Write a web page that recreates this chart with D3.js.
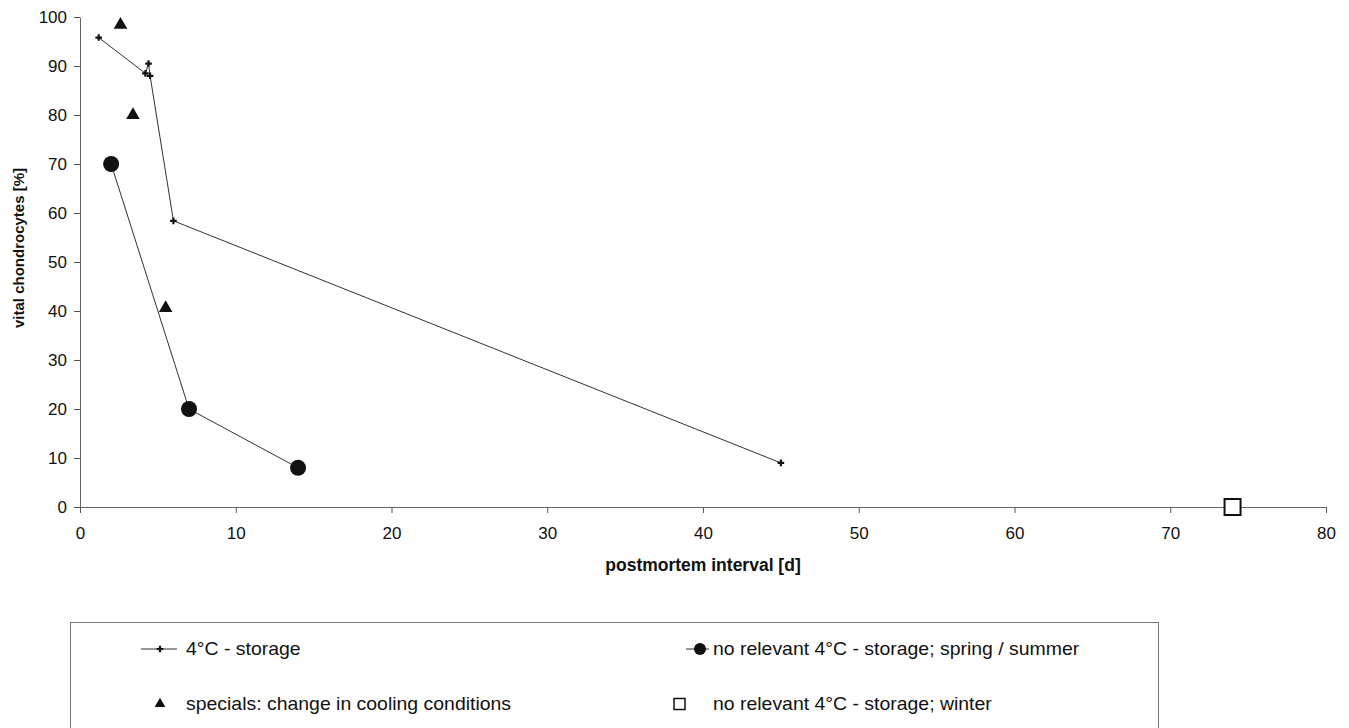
<!DOCTYPE html>
<html>
<head>
<meta charset="utf-8">
<script src="https://cdn.jsdelivr.net/npm/d3@7"></script>
<style>
  body { margin: 0; background: #fff; }
  svg { display: block; font-family: "Liberation Sans", Arial, sans-serif; }
</style>
</head>
<body>
<div id="chart"></div>
<script>
// Data
const storageX = [1.2, 4.2, 4.4, 4.5, 6.0, 45];
const storageY = [95.8, 88.5, 90.5, 88.0, 58.4, 9.0];

const summerX = [2, 7, 14];
const summerY = [70, 20, 8];

const specialsX = [2.6, 3.4, 5.5];
const specialsY = [98.4, 80.0, 40.6];

const winterX = [74];
const winterY = [0];

const xTicks = [0, 10, 20, 30, 40, 50, 60, 70, 80];
const yTicks = [0, 10, 20, 30, 40, 50, 60, 70, 80, 90, 100];

const legendLabels = [
  "4°C - storage",
  "no relevant 4°C - storage; spring / summer",
  "specials: change in cooling conditions",
  "no relevant 4°C - storage; winter"
];

// Figure
const width = 1349;
const height = 728;
const marginLeft = 80;
const marginRight = 23;
const marginTop = 17;
const plotBottom = 507;

const svg = d3.select("#chart").append("svg")
    .attr("width", width)
    .attr("height", height);

const x = d3.scaleLinear().domain([0, 80]).range([marginLeft, width - marginRight]);
const y = d3.scaleLinear().domain([0, 100]).range([plotBottom, marginTop]);

// X-axis
const xAxis = svg.append("g")
    .attr("transform", `translate(0,${plotBottom})`)
    .call(d3.axisBottom(x).tickValues(xTicks).tickSize(6).tickSizeOuter(0).tickPadding(14));
xAxis.select(".domain").attr("stroke", "#666");
xAxis.selectAll(".tick line").attr("stroke", "#555");
xAxis.selectAll("text").style("font-size", "17px").attr("fill", "#111");

// Y-axis
const yAxis = svg.append("g")
    .attr("transform", `translate(${marginLeft},0)`)
    .call(d3.axisLeft(y).tickValues(yTicks).tickSize(6).tickSizeOuter(0).tickPadding(7));
yAxis.select(".domain").attr("stroke", "#666");
yAxis.selectAll(".tick line").attr("stroke", "#555");
yAxis.selectAll("text").style("font-size", "17px").attr("fill", "#111");

// Axis titles
svg.append("text")
    .attr("x", 703).attr("y", 571)
    .attr("text-anchor", "middle")
    .style("font-size", "17.5px").attr("font-weight", "bold").attr("fill", "#111")
    .text("postmortem interval [d]");

svg.append("text")
    .attr("transform", "translate(24,248) rotate(-90)")
    .attr("text-anchor", "middle")
    .style("font-size", "15px").attr("font-weight", "bold").attr("fill", "#111")
    .text("vital chondrocytes [%]");

const line = d3.line().x(d => x(d[0])).y(d => y(d[1]));
const storage = d3.zip(storageX, storageY);
const summer = d3.zip(summerX, summerY);
const specials = d3.zip(specialsX, specialsY);
const winter = d3.zip(winterX, winterY);

// 4°C storage
svg.append("path").datum(storage)
    .attr("fill", "none").attr("stroke", "#333").attr("stroke-width", 1)
    .attr("d", line);
const cross = d3.symbol().type(d3.symbolCross).size(24);
svg.selectAll(".storage").data(storage).join("path")
    .attr("transform", d => `translate(${x(d[0])},${y(d[1])})`)
    .attr("d", cross).attr("fill", "#111");

// spring / summer
svg.append("path").datum(summer)
    .attr("fill", "none").attr("stroke", "#333").attr("stroke-width", 1)
    .attr("d", line);
svg.selectAll(".summer").data(summer).join("circle")
    .attr("cx", d => x(d[0])).attr("cy", d => y(d[1]))
    .attr("r", 8).attr("fill", "#111");

// specials
const tri = d3.symbol().type(d3.symbolTriangle).size(80);
svg.selectAll(".special").data(specials).join("path")
    .attr("transform", d => `translate(${x(d[0])},${y(d[1])})`)
    .attr("d", tri).attr("fill", "#111");

// winter
svg.selectAll(".winter").data(winter).join("rect")
    .attr("x", d => x(d[0]) - 8).attr("y", d => y(d[1]) - 8)
    .attr("width", 16).attr("height", 16)
    .attr("fill", "#fff").attr("stroke", "#111").attr("stroke-width", 2);

// Legend
const legend = svg.append("g");
legend.append("rect")
    .attr("x", 70.5).attr("y", 622.5).attr("width", 1088).attr("height", 130)
    .attr("fill", "none").attr("stroke", "#777").attr("stroke-width", 1);

const rows = [649, 704];
const cols = [186, 713];

function legendText(i, cx, cy) {
  legend.append("text")
      .attr("transform", `translate(${cx},${cy}) scale(1.08,1)`)
      .attr("dy", "0.35em")
      .style("font-size", "18px").attr("fill", "#111")
      .text(legendLabels[i]);
}

// item 0
legend.append("line").attr("x1", 141).attr("x2", 177).attr("y1", rows[0]).attr("y2", rows[0])
    .attr("stroke", "#333");
legend.append("path").attr("transform", `translate(160,${rows[0]})`).attr("d", cross).attr("fill", "#111");
legendText(0, cols[0], rows[0]);

// item 1
legend.append("line").attr("x1", 686).attr("x2", 709).attr("y1", rows[0]).attr("y2", rows[0])
    .attr("stroke", "#333");
legend.append("circle").attr("cx", 700).attr("cy", rows[0]).attr("r", 6).attr("fill", "#111");
legendText(1, cols[1], rows[0]);

// item 2
legend.append("path").attr("transform", `translate(160,${rows[1]})`)
    .attr("d", d3.symbol().type(d3.symbolTriangle).size(50)).attr("fill", "#111");
legendText(2, cols[0], rows[1]);

// item 3
legend.append("rect").attr("x", 674).attr("y", rows[1] - 5.5).attr("width", 11).attr("height", 11)
    .attr("fill", "#fff").attr("stroke", "#111").attr("stroke-width", 1.5);
legendText(3, cols[1], rows[1]);
</script>
</body>
</html>
